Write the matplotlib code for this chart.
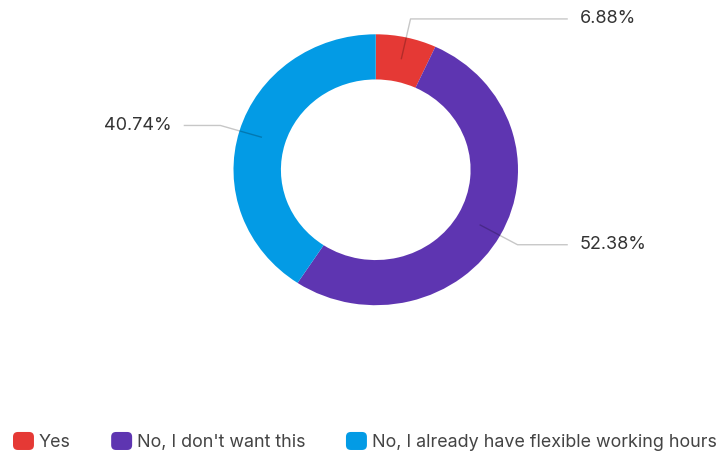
import numpy as np
import matplotlib.pyplot as plt
from matplotlib.patches import Patch, FancyBboxPatch
from matplotlib.legend_handler import HandlerPatch

labels = ['Yes', "No, I don't want this", 'No, I already have flexible working hours']
shares = [6.88, 52.38, 40.74]
colors = ['#E53935', '#5E35B1', '#039BE5']

plt.rcParams['font.family'] = ['Inter', 'DejaVu Sans']


class RoundBox(HandlerPatch):
    # rounded square swatch for the legend
    def create_artists(self, legend, orig_handle, xdescent, ydescent,
                       width, height, fontsize, trans):
        p = FancyBboxPatch((-xdescent, -ydescent), width, height,
                           boxstyle='round,pad=0,rounding_size=3.5',
                           fc=orig_handle.get_facecolor(), ec='none',
                           transform=trans)
        return [p]


fig = plt.figure(figsize=(7.19, 4.59), dpi=100)
W, H = 719, 459
ax = fig.add_axes([233.5 / W, 1 - 305.2 / H, 284.5 / W, 270.9 / H])

wedges, _ = ax.pie(shares, colors=colors, startangle=90, counterclock=False,
                   radius=1, wedgeprops=dict(width=1 / 3, edgecolor='none'))
ax.set_aspect('auto')
ax.set_xlim(-1, 1)
ax.set_ylim(-1, 1)
ax.axis('off')

# leader lines + percentage labels
for w, v in zip(wedges, shares):
    mid = np.deg2rad((w.theta1 + w.theta2) / 2)
    c, s = np.cos(mid), np.sin(mid)
    side = 1 if c >= 0 else -1
    x0, y0 = 0.835 * c, 0.835 * s
    x1, y1 = 1.14 * c, 1.14 * s
    x2 = 1.35 * side
    ax.plot([x0, x1, x2], [y0, y1, y1], color='black', alpha=0.22, lw=1,
            clip_on=False, solid_capstyle='butt')
    ax.text(1.434 * side, y1, '%.2f%%' % v, ha='left' if side > 0 else 'right',
            va='center', fontsize=13, color='#333333', clip_on=False)

handles = [Patch(facecolor=c) for c in colors]
fig.legend(handles, labels, handler_map={Patch: RoundBox()},
           loc='center left', bbox_to_anchor=(13 / W, 1 - 441.5 / H),
           ncol=3, frameon=False, fontsize=12.9, labelcolor='#444444',
           handlelength=1.17, handleheight=1.17, handletextpad=0.28,
           columnspacing=2.25, borderpad=0, borderaxespad=0)

plt.savefig('out.png', dpi=100)
